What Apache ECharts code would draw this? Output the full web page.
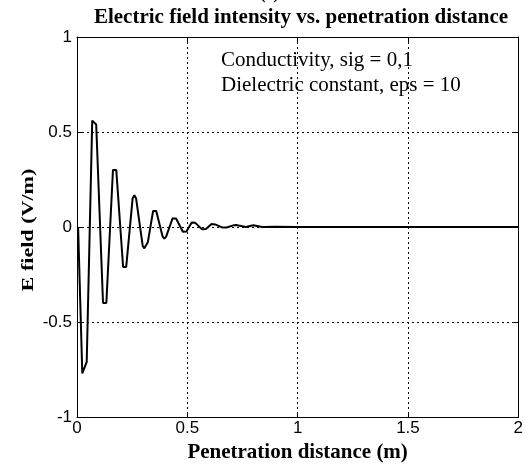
<!DOCTYPE html>
<html><head><meta charset="utf-8">
<script src="https://cdn.jsdelivr.net/npm/echarts@6/dist/echarts.min.js"></script>
<style>html,body{margin:0;padding:0;background:#fff}#c{width:526px;height:468px}</style>
</head><body><div id="c"></div>
<script>
var title = 'Electric field intensity vs. penetration distance';
var panel = '(c)';
var xLabel = 'Penetration distance (m)';
var yLabel = 'E field (V/m)';
var note1 = 'Conductivity, sig = 0,1';
var note2 = 'Dielectric constant, eps = 10';
var xTicks = [0, 0.5, 1, 1.5, 2];
var yTicks = [-1, -0.5, 0, 0.5, 1];
var distance = [0.005, 0.024, 0.044, 0.069, 0.087, 0.118, 0.133, 0.163, 0.178, 0.209, 0.223,
  0.252, 0.260, 0.268, 0.298, 0.305, 0.314, 0.321, 0.345, 0.352, 0.359, 0.388, 0.396, 0.404,
  0.433, 0.441, 0.449, 0.480, 0.488, 0.496, 0.520, 0.528, 0.536, 0.566, 0.575, 0.584,
  0.610, 0.618, 0.626, 0.660, 0.668, 0.678, 0.712, 0.722, 0.732, 0.765, 0.800, 0.810,
  0.840, 0.900, 1.000, 2.000];
var efield = [0, -0.77, -0.71, 0.56, 0.54, -0.40, -0.40, 0.30, 0.30, -0.21, -0.21,
  0.15, 0.168, 0.15, -0.10, -0.112, -0.11, -0.08, 0.085, 0.095, 0.085, -0.05, -0.061, -0.05,
  0.045, 0.054, 0.045, -0.025, -0.030, -0.024, 0.024, 0.028, 0.022, -0.011, -0.015, -0.010,
  0.016, 0.019, 0.014, -0.003, -0.005, -0.002, 0.010, 0.011, 0.008, 0.0, 0.009, 0.007,
  0.0, 0.002, 0.0, 0.0];
var pts = distance.map(function(x, i){ return [x, efield[i]]; });
var chart = echarts.init(document.getElementById('c'));
var serif = '"Liberation Serif","Times New Roman",serif';
var sans = '"Liberation Sans",Arial,sans-serif';
var split = {show:true, lineStyle:{color:'#000', type:[2,3], width:1}};
chart.setOption({
  animation:false,
  backgroundColor:'#fff',
  title:{text:title, left:296, top:2, textAlign:'center',
    textStyle:{fontFamily:serif, fontWeight:'bold', fontSize:21, color:'#000'}},
  grid:{left:77, right:7, top:37, bottom:47},
  xAxis:[{type:'value', min:0, max:2, interval:0.5, position:'bottom',
    name:xLabel, nameLocation:'middle', nameGap:24,
    nameTextStyle:{fontFamily:serif, fontWeight:'bold', fontSize:21, color:'#000'},
    axisLine:{show:true, onZero:false, lineStyle:{color:'#000'}},
    axisTick:{show:true, inside:true, length:5, lineStyle:{color:'#000'}},
    axisLabel:{fontFamily:sans, fontSize:17, color:'#000', margin:3,
      formatter:function(v){ return xTicks.indexOf(v) >= 0 ? String(v) : ''; }},
    splitLine:split},
   {type:'value', min:0, max:2, interval:0.5, position:'top',
    axisLine:{show:true, onZero:false, lineStyle:{color:'#000'}},
    axisTick:{show:true, inside:true, length:5, lineStyle:{color:'#000'}},
    axisLabel:{show:false}, splitLine:{show:false}}],
  yAxis:[{type:'value', min:-1, max:1, interval:0.5, position:'left',
    axisLine:{show:true, onZero:false, lineStyle:{color:'#000'}},
    axisTick:{show:true, inside:true, length:5, lineStyle:{color:'#000'}},
    axisLabel:{fontFamily:sans, fontSize:17, color:'#000', margin:5,
      formatter:function(v){ return yTicks.indexOf(v) >= 0 ? String(v) : ''; }},
    splitLine:split},
   {type:'value', min:-1, max:1, interval:0.5, position:'right',
    axisLine:{show:true, onZero:false, lineStyle:{color:'#000'}},
    axisTick:{show:true, inside:true, length:5, lineStyle:{color:'#000'}},
    axisLabel:{show:false}, splitLine:{show:false}}],
  graphic:[
    {type:'text', left:260, top:-14, style:{text:panel, font:'bold 17px '+serif, fill:'#000'}},
    {type:'text', x:29, y:230, rotation:Math.PI/2, scaleX:1.3,
      style:{text:yLabel, font:'bold 17px '+serif, fill:'#000', textAlign:'center', textVerticalAlign:'middle'}},
    {type:'text', left:221, top:50, style:{text:note1, font:'21px '+serif, fill:'#000'}},
    {type:'text', left:221, top:75, style:{text:note2, font:'21px '+serif, fill:'#000'}}
  ],
  series:[{type:'line', data:pts, showSymbol:false, symbol:'none',
    lineStyle:{color:'#000', width:2}, xAxisIndex:0, yAxisIndex:0}]
});
</script></body></html>
